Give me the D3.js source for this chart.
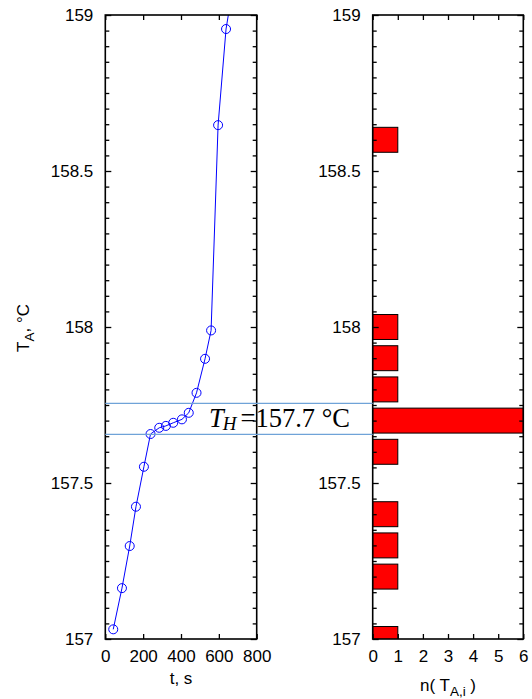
<!DOCTYPE html>
<html><head><meta charset="utf-8">
<script src="https://cdn.jsdelivr.net/npm/d3@7"></script>
<style>body{margin:0;background:#fff}svg{display:block}</style>
</head><body>
<svg id="c" width="532" height="699"></svg>
<script>
// ---- data ----
const timeS = [42, 88, 129, 162, 204, 239, 285, 320, 359, 405, 441, 482, 527, 559, 596, 638, 680];
const tempC = [157.031, 157.163, 157.298, 157.424, 157.552, 157.657, 157.677, 157.683, 157.693, 157.704, 157.725, 157.789, 157.898, 157.989, 158.647, 158.955, 159.11];
const binCenters = [157.0, 157.2, 157.3, 157.4, 157.6, 157.7, 157.8, 157.9, 158.0, 158.6];
const binCounts  = [1, 1, 1, 1, 1, 6, 1, 1, 1, 1];
const bandTemps = [157.656, 157.755];
const yTicks = [157, 157.5, 158, 158.5, 159];
const tTicks = [0, 200, 400, 600, 800];
const nTicks = [0, 1, 2, 3, 4, 5, 6];
const annotation = {sym: "T", sub: "H", rest: "=157.7 °C"};

const svg = d3.select("#c");
const FONT = "Liberation Sans, Arial, sans-serif";
const FS = 17;
const yTop = 15, yBot = 639;
const y = d3.scaleLinear().domain([157, 159]).range([yBot, yTop]);
const xL = d3.scaleLinear().domain([0, 800]).range([105.3, 256.7]);
const xR = d3.scaleLinear().domain([0, 6]).range([372.7, 523.3]);
const yMinor = d3.range(157, 159.001, 0.05).map(v => +v.toFixed(2)).filter(v => !yTicks.some(t => Math.abs(t - v) < 1e-6));

const defs = svg.append("defs");
function clip(id, x) {
  defs.append("clipPath").attr("id", id).append("rect")
    .attr("x", x.range()[0]).attr("y", yTop).attr("width", x.range()[1] - x.range()[0]).attr("height", yBot - yTop);
}
clip("cl", xL); clip("cr", xR);

function frame(x, xticks) {
  const g = svg.append("g");
  const x0 = x.range()[0], x1 = x.range()[1];
  const style = sel => {
    sel.selectAll(".domain").remove();
    sel.selectAll("line").attr("stroke", "#000").attr("stroke-width", 1.3);
    sel.selectAll("text").attr("font-family", FONT).attr("font-size", FS).attr("fill", "#000");
  };
  g.append("g").attr("transform", `translate(${x0},0)`)
    .call(d3.axisLeft(y).tickValues(yTicks).tickSize(-6).tickPadding(12).tickFormat(d3.format("")))
    .call(style);
  g.append("g").attr("transform", `translate(${x0},0)`)
    .call(d3.axisLeft(y).tickValues(yMinor).tickSize(-4).tickFormat(""))
    .call(style);
  g.append("g").attr("transform", `translate(${x1},0)`)
    .call(d3.axisRight(y).tickValues(yTicks).tickSize(-6).tickFormat(""))
    .call(style);
  g.append("g").attr("transform", `translate(${x1},0)`)
    .call(d3.axisRight(y).tickValues(yMinor).tickSize(-4).tickFormat(""))
    .call(style);
  g.append("g").attr("transform", `translate(0,${yBot})`)
    .call(d3.axisBottom(x).tickValues(xticks).tickSize(-5).tickPadding(11).tickFormat(d3.format("")))
    .call(style);
  g.append("g").attr("transform", `translate(0,${yTop})`)
    .call(d3.axisTop(x).tickValues(xticks).tickSize(-5).tickFormat(""))
    .call(style);
  g.append("rect").attr("x", x0).attr("y", yTop).attr("width", x1 - x0).attr("height", yBot - yTop)
    .attr("fill", "none").attr("stroke", "#000").attr("stroke-width", 1.6);
}

// ---- left plot ----
const pts = timeS.map((t, i) => [t, tempC[i]]);
const gl = svg.append("g").attr("clip-path", "url(#cl)");
gl.append("path").datum(pts)
  .attr("d", d3.line().x(d => xL(d[0])).y(d => y(d[1])))
  .attr("fill", "none").attr("stroke", "#0000ff").attr("stroke-width", 1);
gl.selectAll("circle").data(pts).join("circle")
  .attr("cx", d => xL(d[0])).attr("cy", d => y(d[1])).attr("r", 4.5)
  .attr("fill", "none").attr("stroke", "#0000ff").attr("stroke-width", 1);
frame(xL, tTicks);

// ---- right plot ----
const gr = svg.append("g").attr("clip-path", "url(#cr)");
gr.selectAll("rect").data(binCenters.map((c, i) => [c, binCounts[i]])).join("rect")
  .attr("x", xR(0)).attr("width", d => xR(d[1]) - xR(0))
  .attr("y", d => y(d[0] + 0.04)).attr("height", d => y(d[0] - 0.04) - y(d[0] + 0.04))
  .attr("fill", "#ff0000").attr("stroke", "#000").attr("stroke-width", 1);
frame(xR, nTicks);

// ---- band lines ----
svg.selectAll("line.band").data(bandTemps).join("line").attr("class", "band")
  .attr("x1", xL(0)).attr("x2", xR(0)).attr("y1", d => y(d)).attr("y2", d => y(d))
  .attr("stroke", "#6fa3d8").attr("stroke-width", 1.3);

// ---- annotation ----
const at = svg.append("text").attr("x", 209).attr("y", 427)
  .attr("font-family", "Liberation Serif, Times New Roman, serif").attr("font-size", 26.5).attr("fill", "#000");
at.append("tspan").attr("font-style", "italic").text(annotation.sym);
at.append("tspan").attr("font-style", "italic").attr("font-size", 19).attr("dy", 3).attr("dx", -1).text(annotation.sub);
at.append("tspan").attr("dy", -3).attr("dx", 4).text(annotation.rest);

// ---- axis labels ----
const yl = svg.append("text").attr("transform", "translate(29,328) rotate(-90)")
  .attr("text-anchor", "middle").attr("font-family", FONT).attr("font-size", FS);
yl.append("tspan").text("T");
yl.append("tspan").attr("font-size", 13.5).attr("dy", 5).text("A");
yl.append("tspan").attr("dy", -5).text(", °C");

svg.append("text").attr("x", (xL.range()[0] + xL.range()[1]) / 2).attr("y", 684)
  .attr("text-anchor", "middle").attr("font-family", FONT).attr("font-size", FS).text("t, s");

const nl = svg.append("text").attr("x", (xR.range()[0] + xR.range()[1]) / 2).attr("y", 691)
  .attr("text-anchor", "middle").attr("font-family", FONT).attr("font-size", FS);
nl.append("tspan").text("n( T");
nl.append("tspan").attr("font-size", 13.5).attr("dy", 5).text("A,i");
nl.append("tspan").attr("dy", -5).text(" )");
</script>
</body></html>
